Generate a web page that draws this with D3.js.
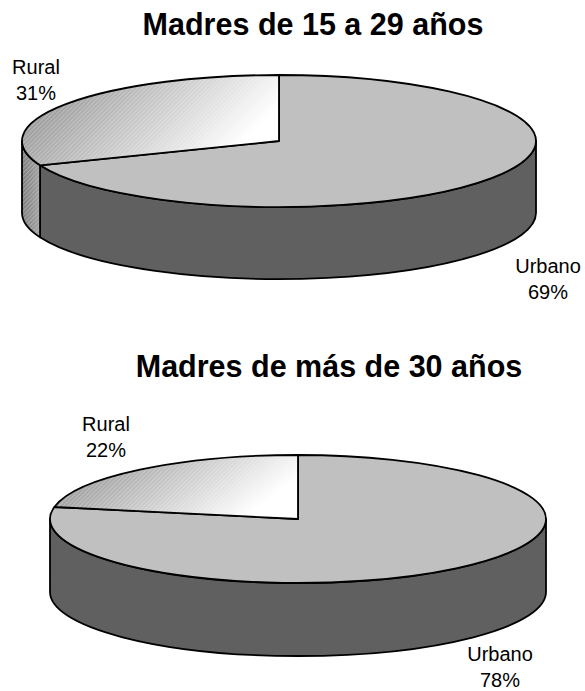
<!DOCTYPE html>
<html>
<head>
<meta charset="utf-8">
<script src="https://cdn.jsdelivr.net/npm/d3@7"></script>
<style>
  body { margin: 0; background: #fff; }
  text { font-family: "Liberation Sans", Arial, sans-serif; fill: #000; }
</style>
</head>
<body>
<svg id="chart" width="585" height="691"></svg>
<script>
// Shares of births by area of residence, per mothers' age group
const categories = ["Urbano", "Rural"];
const sharesYoung = [69, 31];
const sharesOlder = [78, 22];
const titles = ["Madres de 15 a 29 años", "Madres de más de 30 años"];

const svg = d3.select("#chart");
const defs = svg.append("defs");

// Shaded fill for the "Rural" slice: grey-to-white ramp plus fine diagonal hatching
const gradTop = defs.append("linearGradient")
  .attr("id", "ruralTop")
  .attr("x1", 0).attr("y1", 0).attr("x2", 1).attr("y2", 0.35);
gradTop.append("stop").attr("offset", "0%").attr("stop-color", "#808080");
gradTop.append("stop").attr("offset", "100%").attr("stop-color", "#ffffff");

const gradSide = defs.append("linearGradient")
  .attr("id", "ruralSide")
  .attr("x1", 0).attr("y1", 0).attr("x2", 1).attr("y2", 0);
gradSide.append("stop").attr("offset", "0%").attr("stop-color", "#7a7a7a");
gradSide.append("stop").attr("offset", "100%").attr("stop-color", "#a0a0a0");

const hatch = defs.append("pattern")
  .attr("id", "hatch")
  .attr("patternUnits", "userSpaceOnUse")
  .attr("width", 3).attr("height", 3)
  .attr("patternTransform", "rotate(45)");
hatch.append("rect").attr("width", 1.2).attr("height", 3)
  .attr("fill", "#ffffff").attr("opacity", 0.28);

const fills = {
  Urbano: { top: "#c0c0c0", side: "#606060", hatch: false },
  Rural:  { top: "url(#ruralTop)", side: "url(#ruralSide)", hatch: true }
};

const panels = [
  { title: titles[0], values: sharesYoung, titleX: 313, titleY: 35,
    cx: 279, cy: 141, rx: 257, ry: 66, depth: 72,
    labels: { Urbano: [548, 273], Rural: [36, 74] } },
  { title: titles[1], values: sharesOlder, titleX: 329, titleY: 377,
    cx: 298, cy: 519, rx: 248, ry: 64, depth: 73,
    labels: { Urbano: [500, 661], Rural: [106, 431] } }
];

const pie = d3.pie().sort(null).value(d => d.value);
const fmt = d => d3.format(".0f")(d) + "%";

panels.forEach(p => {
  const g = svg.append("g");
  const slices = pie(categories.map((c, i) => ({ cat: c, value: p.values[i] })));

  const pt = (t, dy = 0) => [p.cx + p.rx * Math.sin(t), p.cy - p.ry * Math.cos(t) + dy];
  const f = v => v.toFixed(2);

  // Side walls: only the front half of the ellipse (angles between PI/2 and 3PI/2) is visible
  const sidePath = (a0, a1) => {
    const s0 = Math.max(a0, Math.PI / 2), s1 = Math.min(a1, 3 * Math.PI / 2);
    if (s1 <= s0) return null;
    const [x0, y0] = pt(s0), [x1, y1] = pt(s1);
    const [x2, y2] = pt(s1, p.depth), [x3, y3] = pt(s0, p.depth);
    const large = (s1 - s0) > Math.PI ? 1 : 0;
    return `M${f(x0)},${f(y0)}A${p.rx},${p.ry} 0 ${large} 1 ${f(x1)},${f(y1)}` +
           `L${f(x2)},${f(y2)}A${p.rx},${p.ry} 0 ${large} 0 ${f(x3)},${f(y3)}Z`;
  };

  const topPath = (a0, a1) => {
    const [x0, y0] = pt(a0), [x1, y1] = pt(a1);
    const large = (a1 - a0) > Math.PI ? 1 : 0;
    return `M${p.cx},${p.cy}L${f(x0)},${f(y0)}A${p.rx},${p.ry} 0 ${large} 1 ${f(x1)},${f(y1)}Z`;
  };

  slices.forEach(s => {
    const d = sidePath(s.startAngle, s.endAngle);
    if (!d) return;
    const st = fills[s.data.cat];
    g.append("path").attr("d", d).attr("fill", st.side);
    if (st.hatch) g.append("path").attr("d", d).attr("fill", "url(#hatch)");
    g.append("path").attr("d", d).attr("fill", "none")
      .attr("stroke", "#000").attr("stroke-width", 1.8).attr("stroke-linejoin", "round");
  });

  slices.forEach(s => {
    const d = topPath(s.startAngle, s.endAngle);
    const st = fills[s.data.cat];
    g.append("path").attr("d", d).attr("fill", st.top);
    if (st.hatch) g.append("path").attr("d", d).attr("fill", "url(#hatch)");
    g.append("path").attr("d", d).attr("fill", "none")
      .attr("stroke", "#000").attr("stroke-width", 1.8).attr("stroke-linejoin", "round");
  });

  svg.append("text")
    .attr("x", p.titleX).attr("y", p.titleY)
    .attr("text-anchor", "middle")
    .style("font-size", "30.5px").style("font-weight", "bold")
    .text(p.title);

  slices.forEach(s => {
    const [lx, ly] = p.labels[s.data.cat];
    const t = svg.append("text").attr("text-anchor", "middle").style("font-size", "20px");
    t.append("tspan").attr("x", lx).attr("y", ly).text(s.data.cat);
    t.append("tspan").attr("x", lx).attr("y", ly + 26).text(fmt(s.data.value));
  });
});
</script>
</body>
</html>
